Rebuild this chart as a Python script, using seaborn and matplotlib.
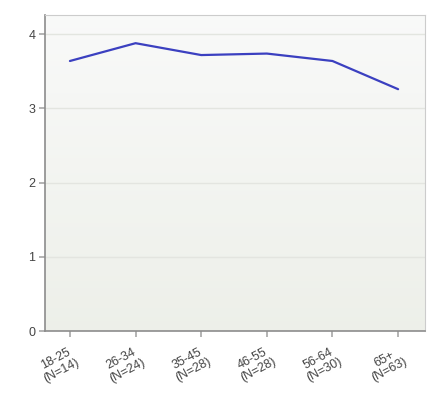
import numpy as np
import pandas as pd
import matplotlib
matplotlib.use("Agg")
import matplotlib.pyplot as plt
import matplotlib.transforms as mtransforms
import seaborn as sns

# age groups and mean scores
age_groups = ["18-25\n(N=14)", "26-34\n(N=24)", "35-45\n(N=28)",
              "46-55\n(N=28)", "56-64\n(N=30)", "65+\n(N=63)"]
mean_scores = [3.64, 3.88, 3.72, 3.74, 3.64, 3.26]
y_ticks = [0, 1, 2, 3, 4]

df = pd.DataFrame({"pos": range(len(age_groups)), "score": mean_scores})

sns.set_theme(style="white")
plt.rcParams["font.family"] = ["Liberation Sans", "DejaVu Sans"]

fig = plt.figure(figsize=(4.4, 4.0), dpi=100)
ax = fig.add_axes([45 / 440, 69 / 400, 380 / 440, 316 / 400])

# vertical gradient background, light at top, greyish green at bottom
grad = np.linspace(0, 1, 256).reshape(-1, 1)
top = np.array([0.976, 0.978, 0.976])
bot = np.array([0.930, 0.940, 0.915])
img = top + (bot - top) * grad[:, :, None]
ax.imshow(img, extent=[0, 1, 0, 1], transform=ax.transAxes,
          aspect="auto", zorder=0)

for y in y_ticks[1:]:
    ax.axhline(y, color="#e3e5e0", lw=1, zorder=1)

sns.lineplot(data=df, x="pos", y="score", ax=ax, color="#3b40c0",
             lw=1.6, zorder=3)

ax.set_xlim(-0.38, 5.41)
ax.set_ylim(0, 4.26)
ax.set_xticks(range(len(age_groups)))
ax.set_xticklabels(age_groups, rotation=28, ha="right", va="top",
                   rotation_mode="anchor", fontsize=9, color="#444444",
                   linespacing=1.05, multialignment="center")
# nudge the rotated labels to the right, like the original
shift = mtransforms.ScaledTranslation(12 / 100, 0, fig.dpi_scale_trans)
for lab in ax.get_xticklabels():
    lab.set_transform(lab.get_transform() + shift)

ax.set_yticks(y_ticks)
ax.set_yticklabels([str(v) for v in y_ticks], fontsize=9, color="#444444")
ax.set_xlabel("")
ax.set_ylabel("")

ax.tick_params(axis="x", length=4, color="#aaaaaa", pad=6, bottom=True)
ax.tick_params(axis="y", length=4, color="#aaaaaa", pad=3, left=True)

for side in ["left", "bottom"]:
    ax.spines[side].set_color("#8c8c8c")
    ax.spines[side].set_linewidth(1.2)
for side in ["top", "right"]:
    ax.spines[side].set_color("#cccccc")
    ax.spines[side].set_linewidth(0.8)

fig.savefig("out.png", dpi=100)
